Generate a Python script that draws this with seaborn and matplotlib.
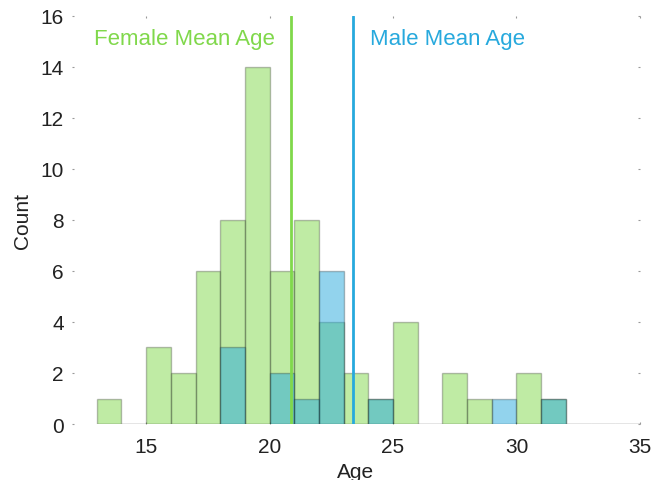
import matplotlib
matplotlib.use("Agg")
import matplotlib.pyplot as plt
import numpy as np
import pandas as pd
import seaborn as sns

# Age bins (left edges, width 1 year) and counts per group
bin_edges = list(range(13, 36))
bin_left = list(range(13, 35))
female_counts = [1, 0, 3, 2, 6, 8, 14, 6, 8, 4, 2, 1, 4, 0, 2, 1, 0, 2, 1, 0, 0, 0]
male_counts = [0, 0, 0, 0, 0, 3, 0, 2, 1, 6, 0, 1, 0, 0, 0, 0, 1, 0, 1, 0, 0, 0]
female_mean_age = 20.88
male_mean_age = 23.36

x_ticks = [15, 20, 25, 30, 35]
y_ticks = [0, 2, 4, 6, 8, 10, 12, 14, 16]

green = "#80D84B"
blue = "#27A9DD"

sns.set_theme(style="white")
plt.rcParams["font.family"] = ["Liberation Sans", "DejaVu Sans"]

df = pd.DataFrame({
    "age": bin_left * 2,
    "count": female_counts + male_counts,
    "group": ["Female"] * len(bin_left) + ["Male"] * len(bin_left),
})

fig = plt.figure(figsize=(6.55, 4.81), dpi=100)
ax = fig.add_axes([0.110, 0.1164, 0.867, 0.8486])

sns.histplot(data=df[df.group == "Female"], x="age", weights="count",
             bins=bin_edges, color=green, alpha=0.5,
             edgecolor=(0, 0, 0, 0.25), linewidth=1.0, ax=ax)
sns.histplot(data=df[df.group == "Male"], x="age", weights="count",
             bins=bin_edges, color=blue, alpha=0.5,
             edgecolor=(0, 0, 0, 0.25), linewidth=1.0, ax=ax)

ax.axvline(female_mean_age, ymin=0, ymax=1, color=green, lw=2.0)
ax.axvline(male_mean_age, ymin=0, ymax=1, color=blue, lw=2.0)

ax.text(female_mean_age - 0.65, 15.12, "Female Mean Age", color=green,
        fontsize=16, ha="right", va="center")
ax.text(male_mean_age + 0.7, 15.12, "Male Mean Age", color=blue,
        fontsize=16, ha="left", va="center")

ax.set_xlim(12, 35)
ax.set_ylim(0, 16)
ax.set_xticks(x_ticks)
ax.set_yticks(y_ticks)
for s in ax.spines.values():
    s.set_visible(False)
ax.tick_params(axis="both", which="both", direction="in", length=1.5,
               width=0.8, color="#999999", labelsize=15, labelcolor="#222222",
               top=True, right=True, bottom=True, left=True, pad=6)
ax.tick_params(axis="x", pad=9)
ax.set_xlabel("Age", fontsize=15, color="#222222", labelpad=5)
ax.set_ylabel("Count", fontsize=15, color="#222222", labelpad=6)

fig.savefig("out.png", dpi=100)
